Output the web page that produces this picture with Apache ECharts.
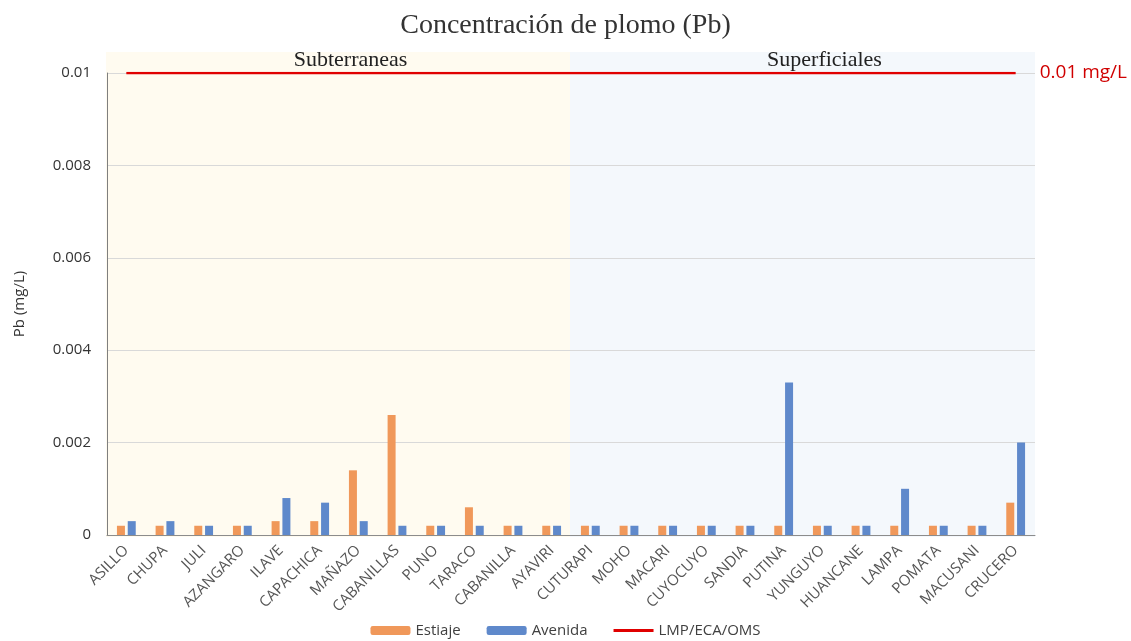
<!DOCTYPE html>
<html>
<head>
<meta charset="utf-8">
<script src="https://cdn.jsdelivr.net/npm/echarts@6/dist/echarts.min.js"></script>
<style>
  html, body { margin: 0; padding: 0; background: #fff; }
  #main { width: 1131px; height: 641px; }
</style>
</head>
<body>
<div id="main"></div>
<script>
// estaciones (12 subterraneas + 12 superficiales)
var categories = ['ASILLO', 'CHUPA', 'JULI', 'AZANGARO', 'ILAVE', 'CAPACHICA', 'MAÑAZO', 'CABANILLAS',
  'PUNO', 'TARACO', 'CABANILLA', 'AYAVIRI', 'CUTURAPI', 'MOHO', 'MACARI', 'CUYOCUYO', 'SANDIA',
  'PUTINA', 'YUNGUYO', 'HUANCANE', 'LAMPA', 'POMATA', 'MACUSANI', 'CRUCERO'];
var estiaje = [0.0002, 0.0002, 0.0002, 0.0002, 0.0003, 0.0003, 0.0014, 0.0026,
  0.0002, 0.0006, 0.0002, 0.0002, 0.0002, 0.0002, 0.0002, 0.0002, 0.0002,
  0.0002, 0.0002, 0.0002, 0.0002, 0.0002, 0.0002, 0.0007];
var avenida = [0.0003, 0.0003, 0.0002, 0.0002, 0.0008, 0.0007, 0.0003, 0.0002,
  0.0002, 0.0002, 0.0002, 0.0002, 0.0002, 0.0002, 0.0002, 0.0002, 0.0002,
  0.0033, 0.0002, 0.0002, 0.001, 0.0002, 0.0002, 0.002];
var limite = 0.01;
var lmp = categories.map(function () { return limite; });
var grupos = [
  { name: 'Subterraneas', from: 'ASILLO', to: 'AYAVIRI', color: '#FFFBF0', dx: 12 },
  { name: 'Superficiales', from: 'CUTURAPI', to: 'CRUCERO', color: '#F4F8FC', dx: 22 }
];

var myChart = echarts.init(document.getElementById('main'));

var option = {
  animation: false,
  title: {
    text: 'Concentración de plomo (Pb)',
    left: 'center',
    top: 7,
    textStyle: { fontFamily: 'Liberation Serif', fontSize: 28, fontWeight: 'normal', color: '#333' }
  },
  legend: {
    bottom: -2,
    left: 'center',
    itemWidth: 40,
    itemHeight: 9,
    itemGap: 26,
    textStyle: { fontFamily: 'Open Sans', fontSize: 15, color: '#404040' },
    data: [
      'Estiaje',
      'Avenida',
      { name: 'LMP/ECA/OMS', icon: 'path://M0,0H40V3H0Z' }
    ]
  },
  grid: { left: 107, right: 96, top: 73, bottom: 106 },
  xAxis: {
    type: 'category',
    data: categories,
    axisLine: { lineStyle: { color: '#8c8c8c' } },
    axisTick: { show: false },
    axisLabel: {
      interval: 0,
      rotate: 45,
      margin: 13,
      fontFamily: 'Open Sans',
      fontSize: 15,
      color: '#555'
    }
  },
  yAxis: {
    type: 'value',
    min: 0,
    max: 0.01,
    interval: 0.002,
    name: 'Pb (mg/L)',
    nameLocation: 'middle',
    nameGap: 80,
    nameTextStyle: { fontFamily: 'Open Sans', fontSize: 15, color: '#333' },
    axisLine: { show: true, lineStyle: { color: '#7f7f7f' } },
    axisTick: { show: false },
    axisLabel: {
      fontFamily: 'Open Sans',
      fontSize: 15,
      color: '#333',
      margin: 16,
      formatter: function (v) { return v === 0 ? '0' : String(+v.toFixed(3)); }
    },
    splitLine: { lineStyle: { color: '#d9d9d9' } }
  },
  series: [
    {
      name: 'Estiaje',
      type: 'bar',
      data: estiaje,
      barWidth: 8,
      barGap: '35%',
      itemStyle: { color: '#F0985A' }
    },
    {
      name: 'Avenida',
      type: 'bar',
      data: avenida,
      barWidth: 8,
      barGap: '35%',
      itemStyle: { color: '#5F89CB' }
    },
    {
      name: 'LMP/ECA/OMS',
      type: 'line',
      data: lmp,
      symbol: 'none',
      lineStyle: { color: '#E00000', width: 2.5 },
      itemStyle: { color: '#E00000' },
      endLabel: {
        show: true,
        distance: 24,
        formatter: limite + ' mg/L',
        fontFamily: 'Open Sans',
        fontSize: 19,
        color: '#D00000'
      },
      z: 5
    }
  ]
};
myChart.setOption(option);

// fondos de las dos zonas, calculados desde el eje de categorias
function dibujarFondos() {
  var half = myChart.convertToPixel({ xAxisIndex: 0 }, categories[1]) -
             myChart.convertToPixel({ xAxisIndex: 0 }, categories[0]);
  half = half / 2;
  var yTop = 52;
  var yBot = myChart.convertToPixel({ yAxisIndex: 0 }, 0) + 2;
  var elems = [];
  grupos.forEach(function (g) {
    var x0 = myChart.convertToPixel({ xAxisIndex: 0 }, g.from) - half - 1;
    var x1 = myChart.convertToPixel({ xAxisIndex: 0 }, g.to) + half;
    elems.push({
      type: 'rect',
      shape: { x: x0, y: yTop, width: x1 - x0, height: yBot - yTop },
      style: { fill: g.color },
      z: -10,
      silent: true
    });
    elems.push({
      type: 'text',
      x: (x0 + x1) / 2 + g.dx,
      y: 60,
      style: {
        text: g.name,
        fontFamily: 'Liberation Serif',
        fontSize: 22,
        fill: '#222',
        align: 'center',
        verticalAlign: 'middle'
      },
      z: 10
    });
  });
  myChart.setOption({ graphic: elems });
}
dibujarFondos();
</script>
</body>
</html>
